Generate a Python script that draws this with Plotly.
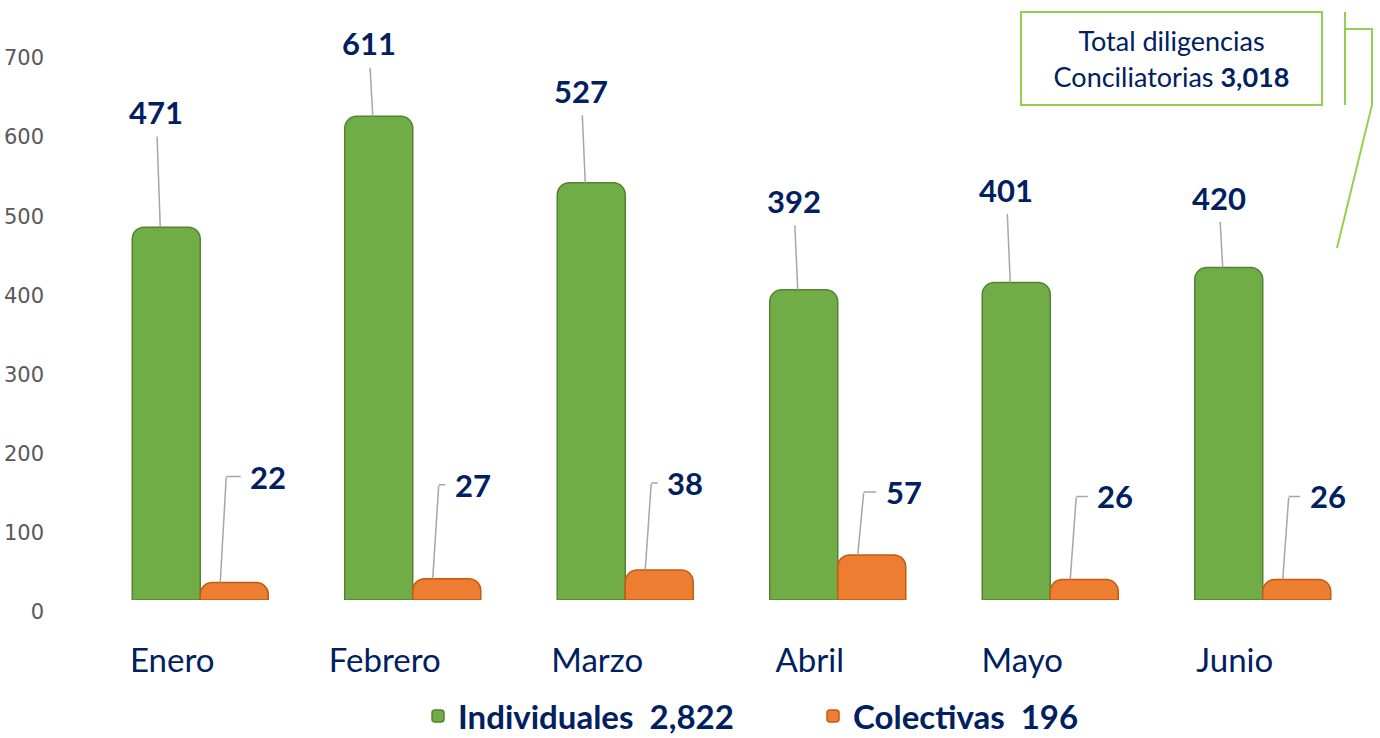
import plotly.graph_objects as go

meses = ["Enero", "Febrero", "Marzo", "Abril", "Mayo", "Junio"]
individuales = [471, 611, 527, 392, 401, 420]
colectivas = [22, 27, 38, 57, 26, 26]
y_ticks = [0, 100, 200, 300, 400, 500, 600, 700]

# label placement (pixels, style only)
ind_label_dy = [-115, -73, -92, -89, -93, -70]
col_label_dx = [42, 34, 34, 40, 39, 39]
col_label_dy = [-106, -94, -87, -63, -83, -83]

W, H = 1380, 738
L, R, T, B = 94, 1369, 30, 600
NAVY = "#002060"
GREEN = "#70AD47"
ORANGE = "#ED7D31"
LIME = "#92D050"
GREY = "#A6A6A6"
FONT = "Lato, Carlito, Calibri, sans-serif"

def px(xp):
    return (xp - L) / (R - L)

def py(yp):
    return (B - yp) / (B - T)

tot_ind = sum(individuales)
tot_col = sum(colectivas)
total = tot_ind + tot_col

fig = go.Figure()
fig.add_trace(go.Bar(
    x=meses, y=individuales,
    name=f"<b>Individuales\u00a0\u00a0{tot_ind:,}</b>",
    marker=dict(color=GREEN, line=dict(color="#548235", width=1.5), cornerradius=12),
))
fig.add_trace(go.Bar(
    x=meses, y=colectivas,
    name=f"<b>Colectivas\u00a0\u00a0{tot_col:,}</b>",
    marker=dict(color=ORANGE, line=dict(color="#C55A11", width=1.5), cornerradius=12),
))

anns = []
for i, m in enumerate(meses):
    # green value labels with vertical leader line
    anns.append(dict(
        x=m, y=individuales[i], xref="x", yref="y", xshift=-40,
        text=f"<b>{individuales[i]}</b>", showarrow=True, arrowhead=0,
        arrowcolor=GREY, arrowwidth=1.5, ax=-4, ay=ind_label_dy[i],
        startstandoff=4, font=dict(family=FONT, size=31, color=NAVY),
    ))
    # orange leader: vertical part
    anns.append(dict(
        x=m, y=colectivas[i], xref="x", yref="y", xshift=20,
        text=" ", showarrow=True, arrowhead=0, arrowcolor=GREY, arrowwidth=1.5,
        ax=6, ay=col_label_dy[i], font=dict(size=1), borderpad=0,
    ))
    # orange value label with horizontal leader part
    anns.append(dict(
        x=m, y=colectivas[i], xref="x", yref="y", xshift=26, yshift=-col_label_dy[i],
        text=f"<b>{colectivas[i]}</b>", showarrow=True, arrowhead=0,
        arrowcolor=GREY, arrowwidth=1.5, ax=col_label_dx[i], ay=0,
        startstandoff=8, font=dict(family=FONT, size=31, color=NAVY),
    ))

anns.append(dict(
    x=px(1171.5), y=py(58.5), xref="paper", yref="paper",
    xanchor="center", yanchor="middle", showarrow=False,
    text=f"Total diligencias<br>Conciliatorias <b>{total:,}</b>",
    font=dict(family=FONT, size=27, color=NAVY),
    bordercolor=LIME, borderwidth=2, width=297, height=89, align="center",
    bgcolor="white",
))

line = dict(color=LIME, width=2)
shapes = [
    dict(type="line", xref="paper", yref="paper", x0=px(1345), x1=px(1345), y0=py(12), y1=py(105), line=line),
    dict(type="path", xref="paper", yref="paper",
         path=f"M {px(1345)},{py(29)} L {px(1372)},{py(29)} L {px(1372)},{py(105)} L {px(1337)},{py(248)}",
         line=line),
]

fig.update_layout(
    width=W, height=H,
    margin=dict(l=L, r=W - R, t=T, b=H - B, autoexpand=False),
    paper_bgcolor="white", plot_bgcolor="white",
    barmode="group", bargap=0.36, bargroupgap=0.0,
    font=dict(family=FONT, color=NAVY),
    annotations=anns, shapes=shapes,
    showlegend=True,
    legend=dict(orientation="h", xref="container", yref="container",
                x=418 / W, xanchor="left", y=(H - 716) / H, yanchor="middle",
                font=dict(family=FONT, size=33, color=NAVY), entrywidth=350,
                bgcolor="rgba(0,0,0,0)"),
    xaxis=dict(showgrid=False, showline=False, zeroline=False, ticks="",
               tickfont=dict(family=FONT, size=33, color=NAVY),
               ticklabelshift=-28, ticklabelstandoff=38, automargin=False),
    yaxis=dict(range=[0, 720], tickvals=y_ticks, showgrid=False, showline=False,
               zeroline=False, ticks="", ticklabelshift=12, ticklabelstandoff=49,
               automargin=False,
               tickfont=dict(family="DejaVu Sans, Verdana, sans-serif", size=21, color="#595959")),
)

fig.write_html("out.html", config={"displayModeBar": False},
               post_script="document.body.style.margin='0';document.body.style.overflow='hidden';")
